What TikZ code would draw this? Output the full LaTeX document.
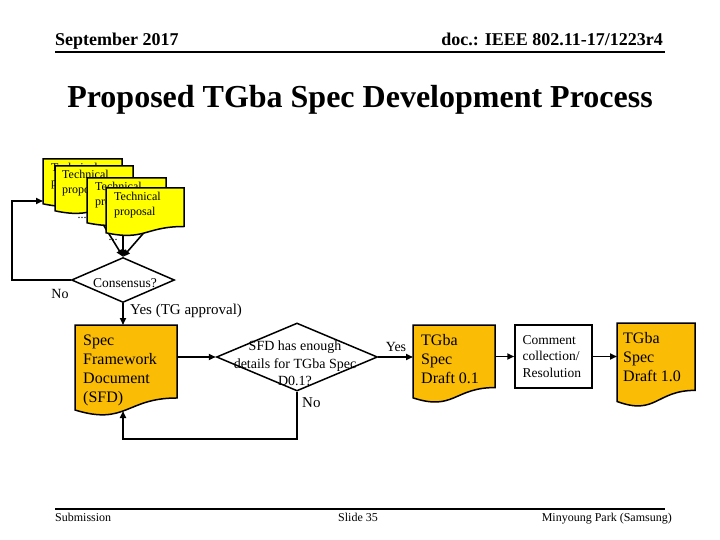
\documentclass[tikz,border=0pt]{standalone}
\usepackage{fontspec}
\setmainfont{Liberation Serif}
\usetikzlibrary{arrows.meta,shapes.geometric,calc}
\definecolor{docyellow}{RGB}{255,255,0}
\definecolor{docgold}{RGB}{250,188,5}
\tikzset{
  conn/.style={line width=1.6pt, -{Triangle[length=7pt,width=6pt]}},
  docborder/.style={line width=1.5pt, draw=black},
  decis/.style={diamond, draw=black, line width=1.5pt, inner sep=0pt, fill=white},
  rule/.style={line width=2pt},
  hdr/.style={inner sep=0pt, font=\fontsize{18}{20}\selectfont\bfseries},
  ftr/.style={inner sep=0pt, font=\fontsize{12}{14}\selectfont},
  lbl/.style={inner sep=0pt, font=\fontsize{15}{18}\selectfont},
  tptext/.style={anchor=north west, align=left, inner sep=0pt, font=\fontsize{12}{14.5}\selectfont},
  doctext/.style={anchor=north west, align=left, inner sep=0pt, font=\fontsize{16}{19}\selectfont},
}
\newcommand\flowdoc[6]{%
  \filldraw[docborder, fill=#6] (#2,#3) -- (#2+#4,#3) -- (#2+#4,#3+0.802*#5)
    .. controls (#2+0.5*#4,#3+0.802*#5) and (#2+0.5*#4,#3+1.107*#5) .. (#2,#3+0.934*#5) -- cycle;
  \node[inner sep=0pt, minimum width=#4pt, minimum height=#5pt, anchor=north west] (#1) at (#2,#3) {};
}
\begin{document}
\begin{tikzpicture}[x=1pt,y=-1pt]
\useasboundingbox (0,0) rectangle (720,540);
\fill[white] (0,0) rectangle (720,540);

% header / footer
\node[hdr, anchor=base west] (date) at (55,46) {September 2017};
\node[hdr, anchor=base east] (docid) at (663,46) {doc.: IEEE 802.11-17/1223r4};
\draw[rule] (55,52) -- (665,52);
\node[font=\fontsize{32}{38}\selectfont\bfseries, inner sep=0pt, anchor=base] (title) at (360,108) {Proposed TGba Spec Development Process};
\draw[rule] (55,509) -- (665,509);
\node[ftr, anchor=base west] (sub) at (55,521) {Submission};
\node[ftr, anchor=base] (slide) at (358,521) {Slide 35};
\node[ftr, anchor=base east] (auth) at (672,521) {Minyoung Park (Samsung)};

% consensus decision
\node[decis, minimum width=103pt, minimum height=45pt] (dec1) at (123,280) {};
\node[inner sep=0pt, font=\fontsize{13.5}{16}\selectfont] (dec1t) at (125,283) {Consensus?};

% dots and arrows into consensus (behind the documents)
\node[inner sep=0pt, font=\fontsize{12}{14}\selectfont] (dots1) at (82,218) {...};
\node[inner sep=0pt, font=\fontsize{12}{14}\selectfont] (dots2) at (113,240) {...};
\coordinate (s1) at (98,216);
\coordinate (s2) at (123,215);
\coordinate (s3) at (161,213);
\draw[conn] (s1) -- (dec1.north);
\draw[conn] (s2) -- (dec1.north);
\draw[conn] (s3) -- (dec1.north);

% technical proposals
\flowdoc{tp1}{43}{159}{79}{48}{docyellow}
\node[tptext] (tp1t) at (51,163) {Technical\\proposal};
\flowdoc{tp2}{55}{166}{78}{48}{docyellow}
\node[tptext] (tp2t) at (62,170) {Technical\\proposal};
\flowdoc{tp3}{87}{178}{79}{48}{docyellow}
\node[tptext] (tp3t) at (95,182) {Technical\\proposal};
\flowdoc{tp4}{106}{188}{78}{48}{docyellow}
\node[tptext] (tp4t) at (114,192) {Technical\\proposal};

% No loop back to proposals
\coordinate (fbc) at (12,201);
\draw[conn] (dec1.west) -| (fbc) -- (tp1.west |- fbc);
\node[lbl, font=\fontsize{14}{16}\selectfont] (no1) at (60,294) {No};

% SFD
\flowdoc{sfd}{75}{325}{102}{91}{docgold}
\node[doctext] (sfdt) at (83,335) {Spec\\Framework\\Document\\(SFD)};
\draw[conn] (dec1.south) -- (dec1.south |- sfd.north);
\node[lbl, anchor=west] (yes1) at (130,311) {Yes (TG approval)};

% decision 2
\node[decis, minimum width=161pt, minimum height=68pt] (dec2) at (297,357) {};
\node[inner sep=0pt, align=center, font=\fontsize{14}{17.5}\selectfont] (dec2t) at (295,363.5) {SFD has enough\\details for TGba Spec\\D0.1?};
\draw[conn] (sfd.east |- dec2.west) -- (dec2.west);

% TGba Spec Draft 0.1
\flowdoc{tg01}{413}{325}{82}{78}{docgold}
\node[doctext] (tg01t) at (421,334) {TGba\\Spec\\Draft 0.1};
\draw[conn] (dec2.east) -- (tg01.west |- dec2.east);
\node[lbl, font=\fontsize{14}{16}\selectfont] (yes2) at (396,347) {Yes};

% comment collection
\node[draw=black, line width=1.5pt, fill=white, minimum width=77pt, minimum height=63pt,
      text width=62pt, align=left, inner sep=0pt, font=\fontsize{13.5}{16.5}\selectfont] (cbox) at (553.5,356.5)
      {Comment\\collection/\\Resolution};
\draw[conn] (tg01.east |- cbox.west) -- (cbox.west);

% TGba Spec Draft 1.0
\flowdoc{tg10}{617}{323}{78}{84}{docgold}
\node[doctext] (tg10t) at (623,332) {TGba\\Spec\\Draft 1.0};
\draw[conn] (cbox.east) -- (tg10.west |- cbox.east);

% No loop back to SFD
\coordinate (sfdbot) at (123,411);
\draw[conn] (dec2.south) -- ++(0,47) -| (sfdbot);
\node[lbl, anchor=west] (no2) at (302,403) {No};
\end{tikzpicture}
\end{document}
